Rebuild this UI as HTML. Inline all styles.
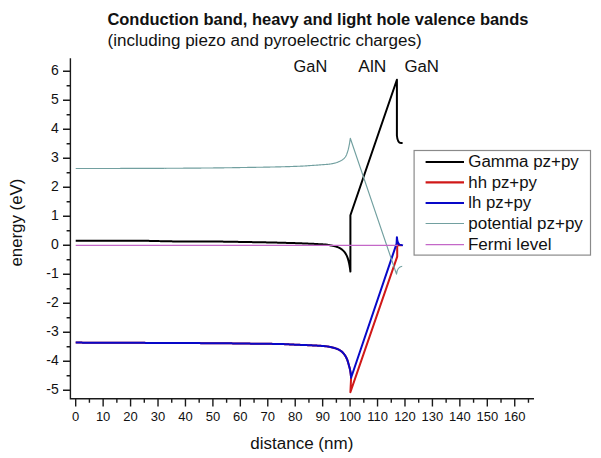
<!DOCTYPE html>
<html><head><meta charset="utf-8"><style>
html,body{margin:0;padding:0;background:#fff;width:601px;height:458px;overflow:hidden}
svg{display:block}
text{font-family:"Liberation Sans",sans-serif;fill:#111}
.t1{font-size:16px;font-weight:bold}
.t2{font-size:16px}
.lb{font-size:16px}
.lg{font-size:16px}
.yl{font-size:14px}
.xl{font-size:13px}
</style></head><body>
<svg width="601" height="458" viewBox="0 0 601 458">
<rect width="601" height="458" fill="#fff"/>
<text x="107.4" y="25" class="t1" textLength="421" lengthAdjust="spacingAndGlyphs">Conduction band, heavy and light hole valence bands</text>
<text x="107.6" y="45.8" class="t2" textLength="314" lengthAdjust="spacingAndGlyphs">(including piezo and pyroelectric charges)</text>
<text x="293.6" y="72" class="lb" textLength="33.6" lengthAdjust="spacingAndGlyphs">GaN</text>
<text x="358.3" y="72" class="lb" textLength="28" lengthAdjust="spacingAndGlyphs">AlN</text>
<text x="404.4" y="72" class="lb" textLength="34.6" lengthAdjust="spacingAndGlyphs">GaN</text>
<path d="M70.4 58.3 L70.4 398.7 L534 398.7" fill="none" stroke="#1a1a1a" stroke-width="1.4"/><path d="M63 390.30 L70.4 390.30 M63 361.30 L70.4 361.30 M63 332.30 L70.4 332.30 M63 303.30 L70.4 303.30 M63 274.30 L70.4 274.30 M63 245.30 L70.4 245.30 M63 216.30 L70.4 216.30 M63 187.30 L70.4 187.30 M63 158.30 L70.4 158.30 M63 129.30 L70.4 129.30 M63 100.30 L70.4 100.30 M63 71.30 L70.4 71.30 M66.6 375.80 L70.4 375.80 M66.6 346.80 L70.4 346.80 M66.6 317.80 L70.4 317.80 M66.6 288.80 L70.4 288.80 M66.6 259.80 L70.4 259.80 M66.6 230.80 L70.4 230.80 M66.6 201.80 L70.4 201.80 M66.6 172.80 L70.4 172.80 M66.6 143.80 L70.4 143.80 M66.6 114.80 L70.4 114.80 M66.6 85.80 L70.4 85.80 M75.70 398.8 L75.70 406.4 M103.14 398.8 L103.14 406.4 M130.58 398.8 L130.58 406.4 M158.02 398.8 L158.02 406.4 M185.46 398.8 L185.46 406.4 M212.90 398.8 L212.90 406.4 M240.34 398.8 L240.34 406.4 M267.78 398.8 L267.78 406.4 M295.22 398.8 L295.22 406.4 M322.66 398.8 L322.66 406.4 M350.10 398.8 L350.10 406.4 M377.54 398.8 L377.54 406.4 M404.98 398.8 L404.98 406.4 M432.42 398.8 L432.42 406.4 M459.86 398.8 L459.86 406.4 M487.30 398.8 L487.30 406.4 M514.74 398.8 L514.74 406.4 M89.42 398.8 L89.42 402.8 M116.86 398.8 L116.86 402.8 M144.30 398.8 L144.30 402.8 M171.74 398.8 L171.74 402.8 M199.18 398.8 L199.18 402.8 M226.62 398.8 L226.62 402.8 M254.06 398.8 L254.06 402.8 M281.50 398.8 L281.50 402.8 M308.94 398.8 L308.94 402.8 M336.38 398.8 L336.38 402.8 M363.82 398.8 L363.82 402.8 M391.26 398.8 L391.26 402.8 M418.70 398.8 L418.70 402.8 M446.14 398.8 L446.14 402.8 M473.58 398.8 L473.58 402.8 M501.02 398.8 L501.02 402.8 M528.46 398.8 L528.46 402.8" fill="none" stroke="#1a1a1a" stroke-width="1.4"/>
<text x="58.7" y="393.70" text-anchor="end" class="yl">-5</text><text x="58.7" y="364.70" text-anchor="end" class="yl">-4</text><text x="58.7" y="335.70" text-anchor="end" class="yl">-3</text><text x="58.7" y="306.70" text-anchor="end" class="yl">-2</text><text x="58.7" y="277.70" text-anchor="end" class="yl">-1</text><text x="58.7" y="248.70" text-anchor="end" class="yl">0</text><text x="58.7" y="219.70" text-anchor="end" class="yl">1</text><text x="58.7" y="190.70" text-anchor="end" class="yl">2</text><text x="58.7" y="161.70" text-anchor="end" class="yl">3</text><text x="58.7" y="132.70" text-anchor="end" class="yl">4</text><text x="58.7" y="103.70" text-anchor="end" class="yl">5</text><text x="58.7" y="74.70" text-anchor="end" class="yl">6</text><text x="75.70" y="420.9" text-anchor="middle" class="xl">0</text><text x="103.14" y="420.9" text-anchor="middle" class="xl">10</text><text x="130.58" y="420.9" text-anchor="middle" class="xl">20</text><text x="158.02" y="420.9" text-anchor="middle" class="xl">30</text><text x="185.46" y="420.9" text-anchor="middle" class="xl">40</text><text x="212.90" y="420.9" text-anchor="middle" class="xl">50</text><text x="240.34" y="420.9" text-anchor="middle" class="xl">60</text><text x="267.78" y="420.9" text-anchor="middle" class="xl">70</text><text x="295.22" y="420.9" text-anchor="middle" class="xl">80</text><text x="322.66" y="420.9" text-anchor="middle" class="xl">90</text><text x="350.10" y="420.9" text-anchor="middle" class="xl">100</text><text x="377.54" y="420.9" text-anchor="middle" class="xl">110</text><text x="404.98" y="420.9" text-anchor="middle" class="xl">120</text><text x="432.42" y="420.9" text-anchor="middle" class="xl">130</text><text x="459.86" y="420.9" text-anchor="middle" class="xl">140</text><text x="487.30" y="420.9" text-anchor="middle" class="xl">150</text><text x="514.74" y="420.9" text-anchor="middle" class="xl">160</text>
<text transform="translate(22.4 266.6) rotate(-90)" class="lb" textLength="88" lengthAdjust="spacingAndGlyphs">energy (eV)</text>
<text x="250.3" y="449.2" class="lb" textLength="103" lengthAdjust="spacingAndGlyphs">distance (nm)</text>
<g fill="none" stroke-linejoin="round" stroke-linecap="butt">
<path d="M75.70 240.80 L76.70 240.80 L77.70 240.80 L78.70 240.80 L79.70 240.80 L80.70 240.80 L81.70 240.80 L82.70 240.80 L83.70 240.80 L84.70 240.80 L85.70 240.80 L86.70 240.80 L87.70 240.80 L88.70 240.80 L89.70 240.80 L90.70 240.80 L91.70 240.80 L92.70 240.80 L93.70 240.80 L94.70 240.80 L95.70 240.80 L96.70 240.80 L97.70 240.80 L98.70 240.80 L99.70 240.80 L100.70 240.80 L101.70 240.80 L102.70 240.81 L103.70 240.81 L104.70 240.81 L105.70 240.81 L106.70 240.81 L107.70 240.81 L108.70 240.81 L109.70 240.81 L110.70 240.81 L111.70 240.81 L112.70 240.81 L113.70 240.81 L114.70 240.81 L115.70 240.81 L116.70 240.82 L117.70 240.82 L118.70 240.82 L119.70 240.82 L120.70 240.82 L121.70 240.82 L122.70 240.82 L123.70 240.82 L124.70 240.83 L125.70 240.83 L126.70 240.83 L127.70 240.83 L128.70 240.83 L129.70 240.83 L130.70 240.83 L131.70 240.84 L132.70 240.84 L133.70 240.84 L134.70 240.84 L135.70 240.84 L136.70 240.85 L137.70 240.85 L138.70 240.85 L139.70 240.85 L140.70 240.85 L141.70 240.86 L142.70 240.86 L143.70 240.86 L144.70 240.86 L145.70 240.87 L146.70 240.87 L147.70 240.87 L148.70 240.87 L149.70 240.88 L150.70 240.88 L151.70 240.88 L152.70 240.89 L153.70 240.89 L154.70 240.89 L155.70 240.90 L156.70 240.90 L157.70 240.92 L158.70 241.01 L159.70 241.12 L160.70 241.23 L161.70 241.29 L162.70 241.31 L163.70 241.32 L164.70 241.33 L165.70 241.33 L166.70 241.34 L167.70 241.35 L168.70 241.36 L169.70 241.36 L170.70 241.37 L171.70 241.37 L172.70 241.38 L173.70 241.38 L174.70 241.39 L175.70 241.39 L176.70 241.40 L177.70 241.40 L178.70 241.40 L179.70 241.41 L180.70 241.41 L181.70 241.41 L182.70 241.41 L183.70 241.42 L184.70 241.42 L185.70 241.42 L186.70 241.42 L187.70 241.42 L188.70 241.43 L189.70 241.43 L190.70 241.43 L191.70 241.43 L192.70 241.43 L193.70 241.43 L194.70 241.44 L195.70 241.44 L196.70 241.44 L197.70 241.44 L198.70 241.44 L199.70 241.45 L200.70 241.45 L201.70 241.45 L202.70 241.46 L203.70 241.46 L204.70 241.46 L205.70 241.47 L206.70 241.47 L207.70 241.48 L208.70 241.48 L209.70 241.49 L210.70 241.49 L211.70 241.50 L212.70 241.50 L213.70 241.51 L214.70 241.52 L215.70 241.53 L216.70 241.54 L217.70 241.55 L218.70 241.56 L219.70 241.58 L220.70 241.59 L221.70 241.60 L222.70 241.62 L223.70 241.63 L224.70 241.65 L225.70 241.66 L226.70 241.68 L227.70 241.70 L228.70 241.71 L229.70 241.73 L230.70 241.75 L231.70 241.76 L232.70 241.78 L233.70 241.80 L234.70 241.82 L235.70 241.84 L236.70 241.85 L237.70 241.87 L238.70 241.89 L239.70 241.91 L240.70 241.93 L241.70 241.94 L242.70 241.96 L243.70 241.98 L244.70 241.99 L245.70 242.01 L246.70 242.03 L247.70 242.04 L248.70 242.06 L249.70 242.08 L250.70 242.10 L251.70 242.11 L252.70 242.13 L253.70 242.15 L254.70 242.16 L255.70 242.18 L256.70 242.20 L257.70 242.22 L258.70 242.24 L259.70 242.25 L260.70 242.27 L261.70 242.29 L262.70 242.31 L263.70 242.33 L264.70 242.35 L265.70 242.37 L266.70 242.39 L267.70 242.42 L268.70 242.44 L269.70 242.46 L270.70 242.48 L271.70 242.50 L272.70 242.53 L273.70 242.55 L274.70 242.57 L275.70 242.60 L276.70 242.62 L277.70 242.65 L278.70 242.67 L279.70 242.70 L280.70 242.72 L281.70 242.75 L282.70 242.77 L283.70 242.80 L284.70 242.83 L285.70 242.86 L286.70 242.88 L287.70 242.91 L288.70 242.94 L289.70 242.97 L290.70 243.00 L291.70 243.03 L292.70 243.06 L293.70 243.09 L294.70 243.12 L295.70 243.16 L296.70 243.19 L297.70 243.22 L298.70 243.26 L299.70 243.29 L300.70 243.32 L301.70 243.36 L302.70 243.40 L303.70 243.44 L304.70 243.47 L305.70 243.51 L306.70 243.55 L307.70 243.60 L308.70 243.64 L309.70 243.68 L310.70 243.73 L311.70 243.78 L312.70 243.82 L313.70 243.87 L314.70 243.92 L315.70 243.97 L316.70 244.02 L317.70 244.07 L318.70 244.13 L319.70 244.18 L320.70 244.24 L321.20 244.27 L321.70 244.29 L322.20 244.32 L322.70 244.35 L323.20 244.38 L323.70 244.41 L324.20 244.45 L324.70 244.49 L325.20 244.53 L325.70 244.57 L326.20 244.62 L326.70 244.68 L327.20 244.75 L327.70 244.83 L328.20 244.91 L328.70 245.00 L329.20 245.10 L329.70 245.20 L330.20 245.30 L330.70 245.40 L331.20 245.50 L331.70 245.60 L332.20 245.69 L332.70 245.79 L333.20 245.89 L333.70 245.99 L334.20 246.10 L334.70 246.22 L335.20 246.34 L335.70 246.47 L336.20 246.61 L336.70 246.76 L337.20 246.93 L337.70 247.12 L338.20 247.33 L338.70 247.56 L338.95 247.68 L339.20 247.80 L339.45 247.93 L339.70 248.06 L339.95 248.20 L340.20 248.34 L340.45 248.49 L340.70 248.64 L340.95 248.79 L341.20 248.96 L341.45 249.13 L341.70 249.31 L341.95 249.51 L342.20 249.71 L342.45 249.92 L342.70 250.14 L342.95 250.37 L343.20 250.61 L343.45 250.87 L343.70 251.13 L343.95 251.40 L344.20 251.68 L344.45 251.98 L344.70 252.30 L344.95 252.63 L345.20 252.99 L345.45 253.37 L345.70 253.78 L345.95 254.21 L346.20 254.66 L346.45 255.15 L346.70 255.65 L346.95 256.19 L347.20 256.77 L347.45 257.41 L347.70 258.12 L347.95 258.90 L348.20 259.73 L348.45 260.64 L348.70 261.60 L348.95 262.66 L349.20 263.86 L349.45 265.18 L349.70 266.62 L349.95 268.18 L350.20 269.96 L350.40 271.60 L350.4 215.2 L396.9 79.8 L396.9 135.5 Q397.5 143.0 401.0 143.0 L402.6 143.0" stroke="#000" stroke-width="2.0"/>
<path d="M75.70 342.60 L76.70 342.60 L77.70 342.61 L78.70 342.61 L79.70 342.62 L80.70 342.62 L81.70 342.62 L82.70 342.63 L83.70 342.63 L84.70 342.64 L85.70 342.64 L86.70 342.65 L87.70 342.65 L88.70 342.65 L89.70 342.66 L90.70 342.66 L91.70 342.67 L92.70 342.67 L93.70 342.67 L94.70 342.68 L95.70 342.68 L96.70 342.69 L97.70 342.69 L98.70 342.69 L99.70 342.70 L100.70 342.70 L101.70 342.71 L102.70 342.71 L103.70 342.71 L104.70 342.72 L105.70 342.72 L106.70 342.73 L107.70 342.73 L108.70 342.73 L109.70 342.74 L110.70 342.74 L111.70 342.75 L112.70 342.75 L113.70 342.75 L114.70 342.76 L115.70 342.76 L116.70 342.77 L117.70 342.77 L118.70 342.77 L119.70 342.78 L120.70 342.78 L121.70 342.79 L122.70 342.79 L123.70 342.79 L124.70 342.80 L125.70 342.80 L126.70 342.81 L127.70 342.81 L128.70 342.81 L129.70 342.82 L130.70 342.82 L131.70 342.83 L132.70 342.83 L133.70 342.83 L134.70 342.84 L135.70 342.84 L136.70 342.84 L137.70 342.85 L138.70 342.85 L139.70 342.86 L140.70 342.86 L141.70 342.86 L142.70 342.87 L143.70 342.87 L144.70 342.87 L145.70 342.88 L146.70 342.88 L147.70 342.88 L148.70 342.89 L149.70 342.89 L150.70 342.90 L151.70 342.90 L152.70 342.90 L153.70 342.91 L154.70 342.91 L155.70 342.91 L156.70 342.92 L157.70 342.92 L158.70 342.93 L159.70 342.93 L160.70 342.93 L161.70 342.94 L162.70 342.94 L163.70 342.95 L164.70 342.95 L165.70 342.95 L166.70 342.96 L167.70 342.96 L168.70 342.97 L169.70 342.97 L170.70 342.98 L171.70 342.98 L172.70 342.98 L173.70 342.99 L174.70 342.99 L175.70 343.00 L176.70 343.00 L177.70 343.01 L178.70 343.01 L179.70 343.02 L180.70 343.02 L181.70 343.03 L182.70 343.03 L183.70 343.04 L184.70 343.04 L185.70 343.05 L186.70 343.05 L187.70 343.06 L188.70 343.06 L189.70 343.07 L190.70 343.07 L191.70 343.08 L192.70 343.08 L193.70 343.09 L194.70 343.09 L195.70 343.10 L196.70 343.11 L197.70 343.11 L198.70 343.12 L199.70 343.12 L200.70 343.13 L201.70 343.13 L202.70 343.14 L203.70 343.15 L204.70 343.15 L205.70 343.16 L206.70 343.16 L207.70 343.17 L208.70 343.18 L209.70 343.18 L210.70 343.19 L211.70 343.20 L212.70 343.20 L213.70 343.21 L214.70 343.22 L215.70 343.23 L216.70 343.23 L217.70 343.24 L218.70 343.25 L219.70 343.26 L220.70 343.26 L221.70 343.27 L222.70 343.28 L223.70 343.29 L224.70 343.30 L225.70 343.31 L226.70 343.32 L227.70 343.33 L228.70 343.34 L229.70 343.35 L230.70 343.36 L231.70 343.37 L232.70 343.38 L233.70 343.39 L234.70 343.41 L235.70 343.42 L236.70 343.43 L237.70 343.45 L238.70 343.46 L239.70 343.47 L240.70 343.49 L241.70 343.50 L242.70 343.52 L243.70 343.53 L244.70 343.54 L245.70 343.56 L246.70 343.57 L247.70 343.59 L248.70 343.60 L249.70 343.62 L250.70 343.63 L251.70 343.64 L252.70 343.66 L253.70 343.67 L254.70 343.68 L255.70 343.70 L256.70 343.71 L257.70 343.72 L258.70 343.73 L259.70 343.74 L260.70 343.75 L261.70 343.76 L262.70 343.77 L263.70 343.78 L264.70 343.79 L265.70 343.80 L266.70 343.81 L267.70 343.82 L268.70 343.83 L269.70 343.85 L270.70 343.86 L271.70 343.87 L272.70 343.88 L273.70 343.90 L274.70 343.91 L275.70 343.92 L276.70 343.94 L277.70 343.96 L278.70 343.97 L279.70 343.99 L280.70 344.02 L281.70 344.04 L282.70 344.07 L283.70 344.11 L284.70 344.15 L285.70 344.19 L286.70 344.24 L287.70 344.29 L288.70 344.34 L289.70 344.39 L290.70 344.44 L291.70 344.49 L292.70 344.54 L293.70 344.59 L294.70 344.64 L295.70 344.69 L296.70 344.73 L297.70 344.77 L298.70 344.81 L299.70 344.85 L300.70 344.89 L301.70 344.93 L302.70 344.97 L303.70 345.00 L304.70 345.04 L305.70 345.08 L306.70 345.12 L307.70 345.16 L308.70 345.20 L309.70 345.24 L310.70 345.29 L311.70 345.33 L312.70 345.38 L313.70 345.43 L314.70 345.48 L315.70 345.54 L316.70 345.59 L317.70 345.65 L318.70 345.71 L319.70 345.77 L320.70 345.84 L321.70 345.91 L322.20 345.95 L322.70 345.99 L323.20 346.03 L323.70 346.08 L324.20 346.12 L324.70 346.17 L325.20 346.22 L325.70 346.27 L326.20 346.32 L326.70 346.38 L327.20 346.45 L327.70 346.53 L328.20 346.61 L328.70 346.70 L329.20 346.79 L329.70 346.89 L330.20 346.99 L330.70 347.09 L331.20 347.20 L331.70 347.31 L332.20 347.42 L332.70 347.55 L333.20 347.67 L333.70 347.81 L334.20 347.95 L334.70 348.10 L335.20 348.25 L335.70 348.42 L336.20 348.59 L336.70 348.77 L337.20 348.97 L337.70 349.18 L338.20 349.41 L338.70 349.66 L339.20 349.92 L339.45 350.06 L339.70 350.20 L339.95 350.35 L340.20 350.51 L340.45 350.67 L340.70 350.83 L340.95 351.00 L341.20 351.19 L341.45 351.38 L341.70 351.59 L341.95 351.81 L342.20 352.04 L342.45 352.28 L342.70 352.54 L342.95 352.80 L343.20 353.07 L343.45 353.36 L343.70 353.65 L343.95 353.96 L344.20 354.27 L344.45 354.60 L344.70 354.94 L344.95 355.31 L345.20 355.70 L345.45 356.11 L345.70 356.54 L345.95 357.00 L346.20 357.48 L346.45 357.99 L346.70 358.52 L346.95 359.08 L347.20 359.69 L347.45 360.37 L347.70 361.12 L347.95 361.92 L348.20 362.77 L348.45 363.65 L348.70 364.56 L348.95 365.49 L349.20 366.40 L349.45 367.32 L349.70 368.29 L349.95 369.37 L350.20 370.58 L350.45 371.99 L350.70 373.82 L350.95 376.23 L351.10 377.80 L350.4 392.2 L397.2 256.6 L397.2 245.0 L402 245.2" stroke="#d01818" stroke-width="2.0"/>
<path d="M75.70 342.60 L76.70 342.60 L77.70 342.61 L78.70 342.61 L79.70 342.62 L80.70 342.62 L81.70 342.62 L82.70 342.63 L83.70 342.63 L84.70 342.64 L85.70 342.64 L86.70 342.65 L87.70 342.65 L88.70 342.65 L89.70 342.66 L90.70 342.66 L91.70 342.67 L92.70 342.67 L93.70 342.67 L94.70 342.68 L95.70 342.68 L96.70 342.69 L97.70 342.69 L98.70 342.69 L99.70 342.70 L100.70 342.70 L101.70 342.71 L102.70 342.71 L103.70 342.71 L104.70 342.72 L105.70 342.72 L106.70 342.73 L107.70 342.73 L108.70 342.73 L109.70 342.74 L110.70 342.74 L111.70 342.75 L112.70 342.75 L113.70 342.75 L114.70 342.76 L115.70 342.76 L116.70 342.77 L117.70 342.77 L118.70 342.77 L119.70 342.78 L120.70 342.78 L121.70 342.79 L122.70 342.79 L123.70 342.79 L124.70 342.80 L125.70 342.80 L126.70 342.81 L127.70 342.81 L128.70 342.81 L129.70 342.82 L130.70 342.82 L131.70 342.83 L132.70 342.83 L133.70 342.83 L134.70 342.84 L135.70 342.84 L136.70 342.84 L137.70 342.85 L138.70 342.85 L139.70 342.86 L140.70 342.86 L141.70 342.86 L142.70 342.87 L143.70 342.87 L144.70 342.87 L145.70 342.88 L146.70 342.88 L147.70 342.88 L148.70 342.89 L149.70 342.89 L150.70 342.90 L151.70 342.90 L152.70 342.90 L153.70 342.91 L154.70 342.91 L155.70 342.91 L156.70 342.92 L157.70 342.92 L158.70 342.93 L159.70 342.93 L160.70 342.93 L161.70 342.94 L162.70 342.94 L163.70 342.95 L164.70 342.95 L165.70 342.95 L166.70 342.96 L167.70 342.96 L168.70 342.97 L169.70 342.97 L170.70 342.98 L171.70 342.98 L172.70 342.98 L173.70 342.99 L174.70 342.99 L175.70 343.00 L176.70 343.00 L177.70 343.01 L178.70 343.01 L179.70 343.02 L180.70 343.02 L181.70 343.03 L182.70 343.03 L183.70 343.04 L184.70 343.04 L185.70 343.05 L186.70 343.05 L187.70 343.06 L188.70 343.06 L189.70 343.07 L190.70 343.07 L191.70 343.08 L192.70 343.08 L193.70 343.09 L194.70 343.09 L195.70 343.10 L196.70 343.11 L197.70 343.11 L198.70 343.12 L199.70 343.12 L200.70 343.13 L201.70 343.13 L202.70 343.14 L203.70 343.15 L204.70 343.15 L205.70 343.16 L206.70 343.16 L207.70 343.17 L208.70 343.18 L209.70 343.18 L210.70 343.19 L211.70 343.20 L212.70 343.20 L213.70 343.21 L214.70 343.22 L215.70 343.23 L216.70 343.23 L217.70 343.24 L218.70 343.25 L219.70 343.26 L220.70 343.26 L221.70 343.27 L222.70 343.28 L223.70 343.29 L224.70 343.30 L225.70 343.31 L226.70 343.32 L227.70 343.33 L228.70 343.34 L229.70 343.35 L230.70 343.36 L231.70 343.37 L232.70 343.38 L233.70 343.39 L234.70 343.41 L235.70 343.42 L236.70 343.43 L237.70 343.45 L238.70 343.46 L239.70 343.47 L240.70 343.49 L241.70 343.50 L242.70 343.52 L243.70 343.53 L244.70 343.54 L245.70 343.56 L246.70 343.57 L247.70 343.59 L248.70 343.60 L249.70 343.62 L250.70 343.63 L251.70 343.64 L252.70 343.66 L253.70 343.67 L254.70 343.68 L255.70 343.70 L256.70 343.71 L257.70 343.72 L258.70 343.73 L259.70 343.74 L260.70 343.75 L261.70 343.76 L262.70 343.77 L263.70 343.78 L264.70 343.79 L265.70 343.80 L266.70 343.81 L267.70 343.82 L268.70 343.83 L269.70 343.85 L270.70 343.86 L271.70 343.87 L272.70 343.88 L273.70 343.90 L274.70 343.91 L275.70 343.92 L276.70 343.94 L277.70 343.96 L278.70 343.97 L279.70 343.99 L280.70 344.02 L281.70 344.04 L282.70 344.07 L283.70 344.11 L284.70 344.15 L285.70 344.19 L286.70 344.24 L287.70 344.29 L288.70 344.34 L289.70 344.39 L290.70 344.44 L291.70 344.49 L292.70 344.54 L293.70 344.59 L294.70 344.64 L295.70 344.69 L296.70 344.73 L297.70 344.77 L298.70 344.81 L299.70 344.85 L300.70 344.89 L301.70 344.93 L302.70 344.97 L303.70 345.00 L304.70 345.04 L305.70 345.08 L306.70 345.12 L307.70 345.16 L308.70 345.20 L309.70 345.24 L310.70 345.29 L311.70 345.33 L312.70 345.38 L313.70 345.43 L314.70 345.48 L315.70 345.54 L316.70 345.59 L317.70 345.65 L318.70 345.71 L319.70 345.77 L320.70 345.84 L321.70 345.91 L322.20 345.95 L322.70 345.99 L323.20 346.03 L323.70 346.08 L324.20 346.12 L324.70 346.17 L325.20 346.22 L325.70 346.27 L326.20 346.32 L326.70 346.38 L327.20 346.45 L327.70 346.53 L328.20 346.61 L328.70 346.70 L329.20 346.79 L329.70 346.89 L330.20 346.99 L330.70 347.09 L331.20 347.20 L331.70 347.31 L332.20 347.42 L332.70 347.55 L333.20 347.67 L333.70 347.81 L334.20 347.95 L334.70 348.10 L335.20 348.25 L335.70 348.42 L336.20 348.59 L336.70 348.77 L337.20 348.97 L337.70 349.18 L338.20 349.41 L338.70 349.66 L339.20 349.92 L339.45 350.06 L339.70 350.20 L339.95 350.35 L340.20 350.51 L340.45 350.67 L340.70 350.83 L340.95 351.00 L341.20 351.19 L341.45 351.38 L341.70 351.59 L341.95 351.81 L342.20 352.04 L342.45 352.28 L342.70 352.54 L342.95 352.80 L343.20 353.07 L343.45 353.36 L343.70 353.65 L343.95 353.96 L344.20 354.27 L344.45 354.60 L344.70 354.94 L344.95 355.31 L345.20 355.70 L345.45 356.11 L345.70 356.54 L345.95 357.00 L346.20 357.48 L346.45 357.99 L346.70 358.52 L346.95 359.08 L347.20 359.69 L347.45 360.37 L347.70 361.12 L347.95 361.92 L348.20 362.77 L348.45 363.65 L348.70 364.56 L348.95 365.49 L349.20 366.40 L349.45 367.32 L349.70 368.29 L349.95 369.37 L350.20 370.58 L350.45 371.99 L350.70 373.82 L350.95 376.23 L351.10 377.80 L396.6 243.6 L396.9 237.2 Q397.4 243.4 399.5 244.6 L403 245.4" stroke="#0808c8" stroke-width="2.0"/>
<path d="M75.70 168.50 L76.70 168.50 L77.70 168.50 L78.70 168.50 L79.70 168.50 L80.70 168.50 L81.70 168.50 L82.70 168.50 L83.70 168.50 L84.70 168.50 L85.70 168.50 L86.70 168.50 L87.70 168.50 L88.70 168.49 L89.70 168.49 L90.70 168.49 L91.70 168.49 L92.70 168.49 L93.70 168.49 L94.70 168.49 L95.70 168.49 L96.70 168.49 L97.70 168.49 L98.70 168.48 L99.70 168.48 L100.70 168.48 L101.70 168.48 L102.70 168.48 L103.70 168.48 L104.70 168.47 L105.70 168.47 L106.70 168.47 L107.70 168.47 L108.70 168.47 L109.70 168.47 L110.70 168.46 L111.70 168.46 L112.70 168.46 L113.70 168.46 L114.70 168.46 L115.70 168.46 L116.70 168.45 L117.70 168.45 L118.70 168.45 L119.70 168.45 L120.70 168.44 L121.70 168.44 L122.70 168.44 L123.70 168.44 L124.70 168.44 L125.70 168.43 L126.70 168.43 L127.70 168.43 L128.70 168.43 L129.70 168.42 L130.70 168.42 L131.70 168.42 L132.70 168.42 L133.70 168.42 L134.70 168.41 L135.70 168.41 L136.70 168.41 L137.70 168.41 L138.70 168.40 L139.70 168.40 L140.70 168.40 L141.70 168.40 L142.70 168.39 L143.70 168.39 L144.70 168.39 L145.70 168.38 L146.70 168.38 L147.70 168.38 L148.70 168.37 L149.70 168.37 L150.70 168.37 L151.70 168.36 L152.70 168.36 L153.70 168.36 L154.70 168.35 L155.70 168.35 L156.70 168.34 L157.70 168.34 L158.70 168.33 L159.70 168.33 L160.70 168.32 L161.70 168.32 L162.70 168.31 L163.70 168.31 L164.70 168.30 L165.70 168.30 L166.70 168.29 L167.70 168.29 L168.70 168.28 L169.70 168.28 L170.70 168.27 L171.70 168.27 L172.70 168.26 L173.70 168.25 L174.70 168.25 L175.70 168.24 L176.70 168.24 L177.70 168.23 L178.70 168.22 L179.70 168.22 L180.70 168.21 L181.70 168.20 L182.70 168.20 L183.70 168.19 L184.70 168.18 L185.70 168.18 L186.70 168.17 L187.70 168.16 L188.70 168.15 L189.70 168.15 L190.70 168.14 L191.70 168.13 L192.70 168.12 L193.70 168.12 L194.70 168.11 L195.70 168.10 L196.70 168.09 L197.70 168.09 L198.70 168.08 L199.70 168.07 L200.70 168.06 L201.70 168.05 L202.70 168.04 L203.70 168.04 L204.70 168.03 L205.70 168.02 L206.70 168.01 L207.70 168.00 L208.70 167.99 L209.70 167.98 L210.70 167.98 L211.70 167.97 L212.70 167.95 L213.70 167.94 L214.70 167.93 L215.70 167.92 L216.70 167.91 L217.70 167.90 L218.70 167.88 L219.70 167.87 L220.70 167.86 L221.70 167.84 L222.70 167.83 L223.70 167.82 L224.70 167.80 L225.70 167.79 L226.70 167.77 L227.70 167.76 L228.70 167.74 L229.70 167.73 L230.70 167.71 L231.70 167.70 L232.70 167.68 L233.70 167.66 L234.70 167.65 L235.70 167.63 L236.70 167.62 L237.70 167.60 L238.70 167.58 L239.70 167.57 L240.70 167.55 L241.70 167.53 L242.70 167.52 L243.70 167.50 L244.70 167.49 L245.70 167.47 L246.70 167.45 L247.70 167.44 L248.70 167.42 L249.70 167.40 L250.70 167.39 L251.70 167.37 L252.70 167.36 L253.70 167.34 L254.70 167.33 L255.70 167.31 L256.70 167.29 L257.70 167.28 L258.70 167.26 L259.70 167.25 L260.70 167.23 L261.70 167.21 L262.70 167.20 L263.70 167.18 L264.70 167.16 L265.70 167.14 L266.70 167.13 L267.70 167.11 L268.70 167.09 L269.70 167.07 L270.70 167.05 L271.70 167.03 L272.70 167.01 L273.70 166.98 L274.70 166.96 L275.70 166.94 L276.70 166.92 L277.70 166.89 L278.70 166.87 L279.70 166.85 L280.70 166.82 L281.70 166.80 L282.70 166.77 L283.70 166.74 L284.70 166.72 L285.70 166.69 L286.70 166.66 L287.70 166.63 L288.70 166.60 L289.70 166.57 L290.70 166.54 L291.70 166.51 L292.70 166.48 L293.70 166.44 L294.70 166.41 L295.70 166.37 L296.70 166.33 L297.70 166.29 L298.70 166.25 L299.70 166.21 L300.70 166.17 L301.70 166.12 L302.70 166.07 L303.70 166.01 L304.70 165.95 L305.70 165.88 L306.70 165.82 L307.70 165.75 L308.70 165.69 L309.70 165.62 L310.70 165.55 L311.70 165.49 L312.70 165.42 L313.70 165.35 L314.70 165.28 L315.70 165.21 L316.70 165.13 L317.70 165.06 L318.70 164.98 L319.70 164.91 L320.70 164.83 L321.20 164.80 L321.70 164.76 L322.20 164.73 L322.70 164.69 L323.20 164.66 L323.70 164.63 L324.20 164.59 L324.70 164.55 L325.20 164.52 L325.70 164.48 L326.20 164.44 L326.70 164.40 L327.20 164.35 L327.70 164.31 L328.20 164.26 L328.70 164.20 L329.20 164.15 L329.70 164.09 L330.20 164.02 L330.70 163.95 L331.20 163.87 L331.70 163.78 L332.20 163.68 L332.70 163.58 L333.20 163.47 L333.70 163.35 L334.20 163.23 L334.70 163.11 L335.20 162.98 L335.70 162.85 L336.20 162.70 L336.70 162.54 L337.20 162.36 L337.70 162.17 L338.20 161.97 L338.70 161.76 L338.95 161.65 L339.20 161.54 L339.45 161.42 L339.70 161.31 L339.95 161.19 L340.20 161.06 L340.45 160.93 L340.70 160.80 L340.95 160.67 L341.20 160.53 L341.45 160.38 L341.70 160.23 L341.95 160.07 L342.20 159.90 L342.45 159.73 L342.70 159.55 L342.95 159.36 L343.20 159.16 L343.45 158.96 L343.70 158.74 L343.95 158.51 L344.20 158.26 L344.45 157.99 L344.70 157.70 L344.95 157.39 L345.20 157.06 L345.45 156.71 L345.70 156.32 L345.95 155.92 L346.20 155.45 L346.45 154.91 L346.70 154.31 L346.95 153.65 L347.20 152.95 L347.45 152.20 L347.70 151.42 L347.95 150.60 L348.20 149.69 L348.45 148.68 L348.70 147.60 L348.95 146.43 L349.20 145.19 L349.45 143.82 L349.70 142.32 L349.95 140.71 L350.20 139.01 L350.30 138.30 L396.5 274.1 Q397.3 266.8 402.2 266.2" stroke="#72a0a0" stroke-width="1.15"/>
<path d="M75.7 245.3 L397.8 245.3" stroke="#c468c8" stroke-width="1.3"/>
</g>
<rect x="414.1" y="150.5" width="176.4" height="104.6" fill="#fff" stroke="#8a8a8a" stroke-width="1.2"/>
<g stroke-width="2.1">
<path d="M425.6 162 L464 162" stroke="#000"/>
<path d="M425.6 182.4 L464 182.4" stroke="#d01818"/>
<path d="M425.6 203.0 L464 203.0" stroke="#0808c8"/>
<path d="M425.6 223.5 L464 223.5" stroke="#72a0a0" stroke-width="1.15"/>
<path d="M425.6 244.6 L464 244.6" stroke="#c468c8" stroke-width="1.3"/>
</g>
<text x="468.3" y="167" class="lg" textLength="110.5" lengthAdjust="spacingAndGlyphs">Gamma pz+py</text>
<text x="468.3" y="187.7" class="lg" textLength="68.6" lengthAdjust="spacingAndGlyphs">hh pz+py</text>
<text x="468.3" y="208.4" class="lg" textLength="62.9" lengthAdjust="spacingAndGlyphs">lh pz+py</text>
<text x="468.3" y="229.1" class="lg" textLength="114.5" lengthAdjust="spacingAndGlyphs">potential pz+py</text>
<text x="467.9" y="249.8" class="lg" textLength="83.6" lengthAdjust="spacingAndGlyphs">Fermi level</text>
</svg>
</body></html>
